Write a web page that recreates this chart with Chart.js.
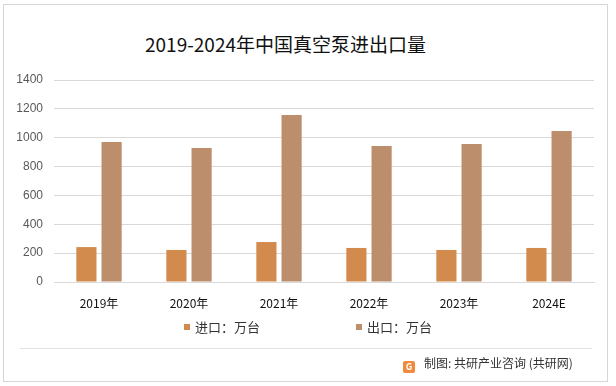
<!DOCTYPE html>
<html>
<head>
<meta charset="utf-8">
<script src="https://cdn.jsdelivr.net/npm/chart.js@4"></script>
<style>
  html, body { margin: 0; padding: 0; background: #fff; }
  body { width: 616px; height: 386px; position: relative; overflow: hidden;
         font-family: "Noto Sans CJK SC", "Noto Sans", sans-serif; }
  #frame { position: absolute; left: 3px; top: 4px; width: 605px; height: 378px;
           border: 1px solid #d6d6d6; box-sizing: border-box; }
  #title { position: absolute; left: 0; width: 571px; top: 31px; text-align: center;
           font-size: 19px; color: #111; line-height: 26px; }
  #chartBox { position: absolute; left: 0; top: 0; width: 616px; height: 386px; }
  .leg { position: absolute; top: 318px; font-size: 13px; color: #333; line-height: 18px; }
  .leg span { display: inline-block; width: 6px; height: 6px; margin-right: 5px; vertical-align: 2px; }
  #sep { position: absolute; left: 20px; top: 348px; width: 572px; height: 1px; background: #e3e3e3; }
  #foot { position: absolute; left: 403px; top: 354px; font-size: 12px; color: #333; line-height: 18px; }
  #logo { display: inline-block; width: 12px; height: 12px; background: #f08a3c; border-radius: 2px;
          margin-right: 9px; vertical-align: -2px; color: #fff; font-size: 9px; line-height: 12px;
          text-align: center; font-weight: bold; }
</style>
</head>
<body>
<div id="frame"></div>
<div id="title">2019-2024年中国真空泵进出口量</div>
<div id="chartBox"><canvas id="myChart"></canvas></div>
<div class="leg" style="left:184px;"><span style="background:#d38b4d"></span>进口：万台</div>
<div class="leg" style="left:356px;"><span style="background:#bc8e6c"></span>出口：万台</div>
<div id="sep"></div>
<div id="foot"><span id="logo">G</span>制图: 共研产业咨询 (共研网)</div>
<script>
// 데이터
const years = ["2019年", "2020年", "2021年", "2022年", "2023年", "2024E"];
const importData = [242, 222, 277, 236, 222, 236];
const exportData = [970, 929, 1157, 942, 956, 1046];
const yTicks = [0, 200, 400, 600, 800, 1000, 1200, 1400];

const ctx = document.getElementById('myChart');
ctx.width = 616;
ctx.height = 386;

new Chart(ctx, {
  type: 'bar',
  data: {
    labels: years,
    datasets: [
      {
        label: '进口：万台',
        data: importData,
        backgroundColor: '#d38b4d',
        borderWidth: 0
      },
      {
        label: '出口：万台',
        data: exportData,
        backgroundColor: '#bc8e6c',
        borderWidth: 0
      }
    ]
  },
  options: {
    responsive: false,
    animation: false,
    categoryPercentage: 0.56,
    barPercentage: 0.8,
    layout: { padding: { left: 0, right: 22, top: 80, bottom: 74 } },
    plugins: {
      legend: { display: false },
      tooltip: { enabled: false }
    },
    scales: {
      x: {
        grid: { display: false },
        border: { color: '#d9d9d9' },
        ticks: { color: '#111', font: { size: 12, family: '"Noto Sans CJK SC", sans-serif' }, padding: 6 },
        afterFit: function(s) { s.height = 30; }
      },
      y: {
        min: 0,
        max: yTicks[yTicks.length - 1],
        afterBuildTicks: function(s) { s.ticks = yTicks.map(v => ({ value: v })); },
        grid: { color: '#d9d9d9', drawTicks: false },
        border: { display: false },
        ticks: {
          color: '#595959',
          font: { size: 12, family: '"Liberation Sans", sans-serif' },
          padding: 11,
          callback: function(v) { return String(v); }
        },
        afterFit: function(s) { s.width = 54; }
      }
    }
  }
});
</script>
</body>
</html>
